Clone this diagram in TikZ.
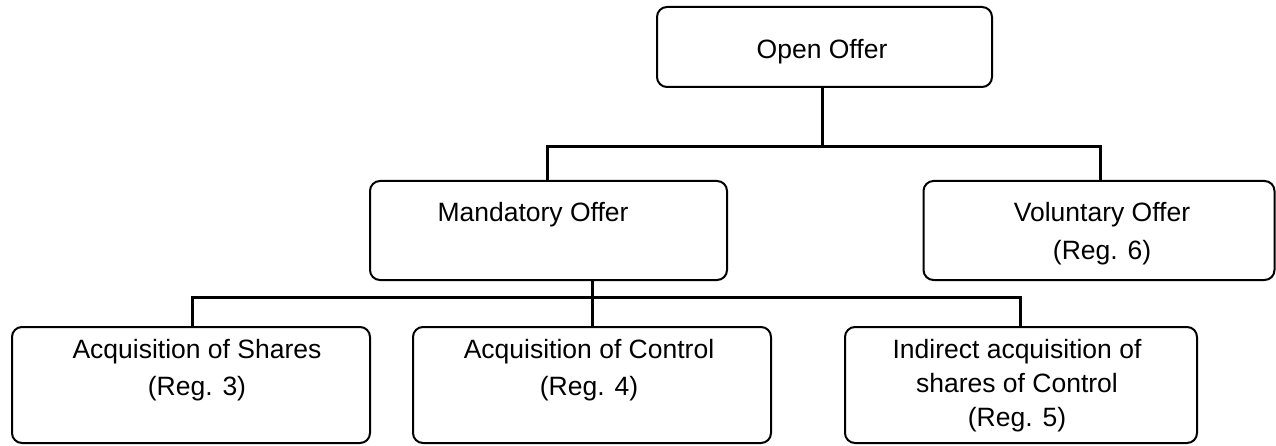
\documentclass[tikz,border=0pt]{standalone}
\usepackage{fontspec}
\setmainfont{Liberation Sans}
\begin{document}
\begin{tikzpicture}[x=1pt,y=-1pt,
  box/.style={draw=black, line width=2pt, rounded corners=10pt, inner sep=0pt, outer sep=0pt},
  lbl/.style={anchor=base, inner sep=0pt, font=\fontsize{26.5}{34}\selectfont},
  conn/.style={draw=black, line width=3pt}]
\useasboundingbox (0,0) rectangle (1276,446);
% boxes
\node[box, minimum width=335pt, minimum height=80pt] (open) at (824.5,47) {};
\node[box, minimum width=357pt, minimum height=99pt] (mand) at (548.5,230.5) {};
\node[box, minimum width=351pt, minimum height=99pt] (vol) at (1099,230.5) {};
\node[box, minimum width=358pt, minimum height=116pt] (left) at (191,385) {};
\node[box, minimum width=358pt, minimum height=116pt] (mid) at (592,385) {};
\node[box, minimum width=352pt, minimum height=116pt] (right) at (1021,385) {};
% texts
\node[lbl] (t-open) at (822,59) {Open Offer};
\node[lbl] (t-mand) at (533,222) {Mandatory Offer};
\node[lbl] (t-vol1) at (1102,222) {Voluntary Offer};
\node[lbl] (t-vol2) at (1102,260) {(Reg. 6)};
\node[lbl] (t-left1) at (197,358) {Acquisition of Shares};
\node[lbl] (t-left2) at (197,395) {(Reg. 3)};
\node[lbl] (t-mid1) at (589,358) {Acquisition of Control};
\node[lbl] (t-mid2) at (589,395) {(Reg. 4)};
\node[lbl] (t-right1) at (1017,358) {Indirect acquisition of};
\node[lbl] (t-right2) at (1017,392) {shares of Control};
\node[lbl] (t-right3) at (1017,426) {(Reg. 5)};
% junctions
\coordinate (j1) at (822,147);
\coordinate (jm) at (547,147);
\coordinate (jv) at (1100,147);
\coordinate (k1) at (592,297);
\coordinate (kl) at (192,297);
\coordinate (kr) at (1020,297);
% connectors
\draw[conn] (open.south -| j1) -- (j1);
\draw[conn, line cap=rect] (jm) -- (jv);
\draw[conn] (jm) -- (mand.north -| jm);
\draw[conn] (jv) -- (vol.north -| jv);
\draw[conn] (mand.south -| k1) -- (mid.north -| k1);
\draw[conn, line cap=rect] (kl) -- (kr);
\draw[conn] (kl) -- (left.north -| kl);
\draw[conn] (kr) -- (right.north -| kr);
\end{tikzpicture}
\end{document}
